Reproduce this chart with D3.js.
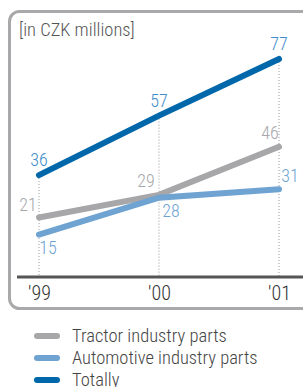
<!DOCTYPE html>
<html>
<head>
<meta charset="utf-8">
<script src="https://cdn.jsdelivr.net/npm/d3@7"></script>
<style>
  body { margin: 0; background: #fff; }
  svg text { font-family: "Liberation Sans Narrow", "Roboto", sans-serif; font-stretch: condensed; font-weight: 300; }
</style>
</head>
<body>
<div id="chart"></div>
<script>
const years = ["'99", "'00", "'01"];
const tractor = [21, 29, 46];
const automotive = [15, 28, 31];
const totally = [36, 57, 77];
const seriesNames = ["Tractor industry parts", "Automotive industry parts", "Totally"];

const width = 303, height = 387;

const svg = d3.select('#chart')
  .append('svg')
  .attr('width', width)
  .attr('height', height);

// frame
svg.append('rect')
  .attr('x', 9.5).attr('y', 11.5)
  .attr('width', 320).attr('height', 297)
  .attr('rx', 10)
  .attr('fill', 'none')
  .attr('stroke', '#a9a9ab')
  .attr('stroke-width', 3);

svg.append('text')
  .attr('x', 19).attr('y', 36)
  .attr('font-size', 18.5)
  .attr('fill', '#555')
  .text('[in CZK millions]');

const x = d3.scalePoint()
  .domain(years)
  .range([39, 279]);

const y = d3.scaleLinear()
  .domain([0, 80])
  .range([277, 50.5]);

// dotted drop lines
const tops = years.map((yr, i) => Math.max(tractor[i], automotive[i], totally[i]));
svg.append('g')
  .selectAll('line')
  .data(years)
  .join('line')
    .attr('x1', d => x(d)).attr('x2', d => x(d))
    .attr('y1', (d, i) => y(tops[i]))
    .attr('y2', y(0))
    .attr('stroke', '#999')
    .attr('stroke-width', 1)
    .attr('stroke-dasharray', '1,2');

// x axis
const xAxis = svg.append('g')
  .attr('transform', `translate(0,${y(0)})`)
  .call(d3.axisBottom(x).tickSize(0).tickPadding(9));
xAxis.select('.domain').remove();
xAxis.append('line')
  .attr('x1', 17).attr('x2', 303)
  .attr('stroke', '#555').attr('stroke-width', 3);
xAxis.selectAll('.tick text')
  .attr('font-size', 20)
  .attr('fill', '#333')
  .attr('font-family', '"Liberation Sans Narrow", "Roboto", sans-serif');

const series = [
  { name: seriesNames[0], values: tractor, color: '#a7a7aa', label: '#a7a7aa',
    off: [[-11, -7], [-13, -8], [-9, -8]] },
  { name: seriesNames[1], values: automotive, color: '#6fa3d2', label: '#6fa3d2',
    off: [[9, 19], [12, 19], [11, -7]] },
  { name: seriesNames[2], values: totally, color: '#0068aa', label: '#3d8ccb',
    off: [[0, -9], [0, -9], [0, -9]] }
];

const line = d3.line()
  .x((d, i) => x(years[i]))
  .y(d => y(d));

svg.append('g')
  .selectAll('path')
  .data(series)
  .join('path')
    .attr('d', d => line(d.values))
    .attr('fill', 'none')
    .attr('stroke', d => d.color)
    .attr('stroke-width', 6)
    .attr('stroke-linecap', 'round');

series.forEach(s => {
  svg.append('g')
    .selectAll('text')
    .data(s.values)
    .join('text')
      .attr('x', (d, i) => x(years[i]) + s.off[i][0])
      .attr('y', (d, i) => y(d) + s.off[i][1])
      .attr('text-anchor', 'middle')
      .attr('font-size', 18)
      .attr('fill', s.label)
      .text(d => d);
});

// legend
const legend = svg.append('g')
  .selectAll('g')
  .data(series)
  .join('g')
    .attr('transform', (d, i) => `translate(0,${336 + i * 22})`);
legend.append('line')
  .attr('x1', 37).attr('x2', 57)
  .attr('stroke', d => d.color)
  .attr('stroke-width', 6)
  .attr('stroke-linecap', 'round');
legend.append('text')
  .attr('x', 72).attr('y', 6)
  .attr('font-size', 18.5)
  .attr('fill', '#444')
  .text(d => d.name);
</script>
</body>
</html>
